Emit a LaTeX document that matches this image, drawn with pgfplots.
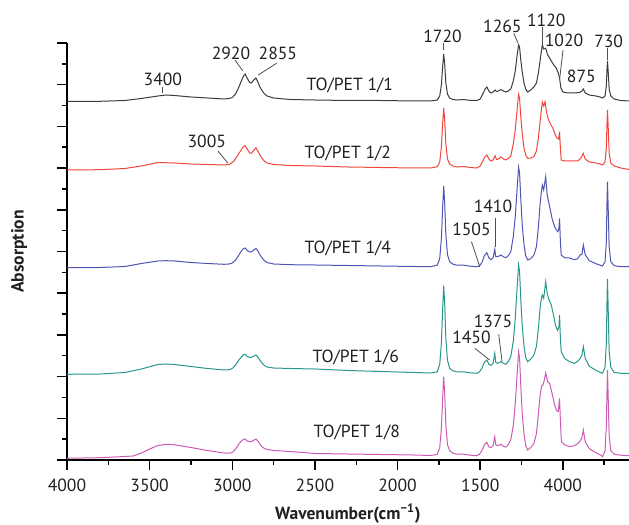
\documentclass[border=0pt]{standalone}
\usepackage{fontspec}
\setmainfont{PT Sans}
\usepackage{pgfplots}
\pgfplotsset{compat=1.18}

\definecolor{lineK}{RGB}{60,60,60}
\definecolor{lineR}{RGB}{240,70,60}
\definecolor{lineB}{RGB}{80,85,180}
\definecolor{lineT}{RGB}{40,150,140}
\definecolor{lineM}{RGB}{205,90,180}
\definecolor{txt}{RGB}{35,31,32}

\begin{document}
\begin{tikzpicture}
\useasboundingbox (0,0) rectangle (314.5pt,262.5pt);
\begin{axis}[
  at={(33.5pt,32.5pt)}, anchor=south west,
  scale only axis, width=281pt, height=208.5pt,
  x dir=reverse, xmin=600, xmax=4000, ymin=0, ymax=417,
  axis x line*=bottom, axis y line*=left,
  axis line style={line width=0.75pt, black},
  xtick={1000,1500,2000,2500,3000,3500,4000},
  xticklabels={4000,1500,2000,2500,3000,3500,4000},
  minor xtick={750,1250,1750,2250,2750,3250,3750},
  ytick={0,41.7,...,417}, minor y tick num=1, yticklabels={},
  tick align=outside, major tick length=5pt, minor tick length=2.5pt,
  tick style={line width=0.75pt, black},
  /pgf/number format/assume math mode=true,
  every tick label/.append style={font=\fontsize{8.8}{10}\selectfont, text=txt},
  xticklabel style={yshift=-1pt},
  xlabel={\bfseries Wavenumber(cm\textsuperscript{−1})},
  ylabel={\bfseries Absorption},
  label style={font=\fontsize{8.8}{10}\selectfont, text=txt},
  xlabel style={at={(axis description cs:0.5,-0.128)}, anchor=center},
  ylabel style={at={(axis description cs:-0.085,0.5)}, anchor=center},
  clip=false,
  every axis plot/.append style={line width=0.5pt},
]
% TO/PET 1/1
\addplot[lineK] table {
4000 358.5
3800 358.7
3650 359.5
3550 361.5
3450 364
3400 365
3350 364.5
3250 363
3150 362
3050 361
3020 361.5
3000 362.5
2980 366
2960 373
2945 379
2932 384
2922 386
2910 382
2895 377.5
2885 377
2870 380
2857 382
2845 378
2830 372
2810 367
2790 364
2750 362
2650 360.5
2500 360
2300 359.5
2100 359.5
1900 359
1800 359
1760 360
1745 364
1735 375
1727 394
1721 406
1715 396
1708 377
1698 366
1685 362
1665 360.5
1640 360
1600 360.5
1580 360
1550 359.5
1520 359.5
1500 361
1485 366
1470 371
1460 373
1448 369
1435 367
1422 368
1410 370
1402 368.5
1390 369
1375 370.5
1360 369
1345 368
1330 369
1315 371
1300 379
1288 389
1278 403
1268 415
1262 413
1254 399
1245 387
1235 377
1225 371
1213 368
1195 370
1175 373
1160 377
1148 387
1138 399
1130 409
1124 415
1116 411
1104 411.7
1092 405
1080 402
1070 399
1055 395
1040 392
1028 387
1020 382
1012 372
1000 368
970 367
930 367
900 367.5
885 369
876 371
865 367
840 365
800 364
775 363
760 362
745 364
737 374
733 391
730 399
726 389
720 371
710 364
690 361
650 359.5
600 359
};
% TO/PET 1/2
\addplot[lineR] table {
4000 290
3800 290.3
3650 291.5
3550 294
3450 297.5
3350 297
3250 296
3150 295.5
3050 295
3020 295.5
3005 297
2990 299
2970 304
2950 309
2935 313
2922 314.3
2910 311
2895 307
2885 306.7
2870 309.5
2857 312.3
2845 309
2830 304
2810 299.5
2790 297
2750 295.5
2650 294.5
2500 294
2300 293
2100 292.5
1900 292
1800 292
1760 293.2
1745 298
1735 313
1727 337
1721 352
1715 340
1708 316
1698 301
1685 296
1665 294
1640 293
1600 293.5
1560 292.5
1520 292
1500 294
1485 299
1470 303.5
1460 305
1448 301
1435 299
1422 300
1410 304.3
1402 300.5
1390 301
1375 303
1360 301
1345 300
1330 301.5
1315 304
1300 316
1288 330
1278 348
1268 365.7
1262 362
1254 342
1245 325
1235 312
1225 305
1213 301.7
1195 302
1175 303.3
1160 309
1148 322
1138 338
1130 350
1124 358
1116 354
1108 358.3
1098 347
1090 341.7
1075 336
1060 331.7
1045 325
1036 322
1026 321
1020 328.3
1015 312
1010 300
990 299
950 299
910 299
890 302
877 306.7
865 301
840 298
800 297
775 296
760 295
745 298
737 312
733 337
730 350
726 334
720 307
710 297
690 294
650 292
600 290.5
};
% TO/PET 1/4
\addplot[lineB] table {
4000 192.3
3800 192.5
3650 193.5
3550 196.5
3450 199
3400 199.3
3350 199
3250 197.5
3150 196.5
3050 195.7
3020 196
3000 197
2980 200
2960 205
2945 209
2932 211.5
2922 212
2910 209.5
2895 208
2885 208
2870 210
2857 211.5
2845 209
2830 204.5
2810 200
2790 197.5
2750 196
2650 195.3
2500 195
2300 194.5
2100 194
1900 193.5
1800 193.3
1760 194.8
1745 201.3
1735 221.3
1727 253.3
1721 274
1715 257.3
1708 225.3
1698 205.3
1685 198.3
1665 195.8
1640 194.8
1600 194.8
1560 193.8
1520 193.3
1505 194
1490 197.3
1475 204.3
1460 207.3
1448 202.3
1435 200.3
1422 202.3
1412 210.7
1406 203.3
1395 203.3
1375 205
1360 203.3
1345 202.3
1330 204.3
1315 208.3
1300 223.3
1288 243.3
1278 268.3
1268 292.7
1262 287.3
1254 259.3
1245 233.3
1235 215.3
1225 204.3
1213 200
1195 201.3
1175 205
1160 213.3
1148 233.3
1138 255.3
1130 268.3
1124 275
1116 270
1104 283.3
1095 265.3
1080 253.3
1065 241.3
1050 233.3
1040 230.3
1030 228.3
1024 231.3
1020 241.7
1015 218.3
1010 205
990 202.3
960 202
930 200.3
910 201.3
895 205.3
885 205.3
876 215
865 205.3
840 199.3
800 196.3
775 194.8
760 194
745 198.3
737 218.3
733 258.3
730 278.3
726 253.3
720 213.3
710 198.3
690 194.3
650 193.3
600 193.3
};
% TO/PET 1/6
\addplot[lineT] table {
4000 85.7
3800 86
3650 87.5
3550 91
3450 95.5
3400 96
3350 95.5
3250 93.5
3150 91.5
3050 90
3020 90.3
3000 91.5
2980 95
2960 100
2945 103
2932 105.2
2922 105.7
2910 103.5
2895 102.7
2885 102.7
2870 104
2857 105
2845 103
2830 99
2810 95
2790 93
2750 92
2650 91.5
2500 91
2300 89.5
2100 88.5
1900 87.5
1800 87
1760 88.2
1745 95.7
1735 116.7
1727 151.7
1721 174.3
1715 156.7
1708 121.7
1698 99.7
1685 91.7
1665 89.2
1640 88.2
1600 88.2
1560 87.2
1520 86.7
1505 88.2
1490 91.7
1475 97.7
1460 100
1448 95.7
1435 94.7
1422 96.7
1412 106.7
1406 97.7
1395 96.7
1375 98.3
1360 96.7
1345 95.7
1330 98.7
1315 103.7
1300 118.7
1288 141.7
1278 168.7
1268 195
1262 188.7
1254 158.7
1245 131.7
1235 113.7
1225 102.7
1213 98.3
1195 100.7
1175 105
1160 113.7
1148 131.7
1138 151.7
1130 161.7
1124 165
1116 161.7
1104 178.3
1095 166.7
1085 160.7
1070 155
1055 143.7
1045 134.7
1032 129.7
1024 132.7
1020 145
1015 121.7
1010 108.3
990 101.7
960 98.3
930 96.7
910 98.7
895 101.7
885 104.7
876 113.3
865 101.7
840 93.7
800 89.7
775 87.7
760 86.7
745 92.7
737 116.7
733 158.7
730 181
726 152.7
720 108.7
710 92.7
690 87.7
650 86.7
600 86.7
};
% TO/PET 1/8
\addplot[lineM] table {
4000 1.7
3800 2.3
3650 3.5
3600 4
3550 7
3500 11
3450 14.5
3400 15.7
3350 15.2
3250 12.5
3150 9.5
3050 7
3020 6.8
3000 7.5
2980 11
2960 16
2945 19
2932 20.7
2922 21
2910 19
2895 18.3
2885 18.3
2870 19.8
2857 21
2845 19
2830 15
2810 12
2790 10.5
2750 9.5
2650 8.5
2500 6.5
2300 6
2100 5.5
1900 5
1800 4.5
1760 5.6
1745 12.3
1735 31.3
1727 62.3
1721 83.3
1715 67.3
1708 35.3
1698 15.3
1685 9.3
1665 6.8
1640 5.8
1600 5.8
1560 4.8
1520 4.3
1505 5.8
1490 9.3
1475 15.3
1460 17.7
1448 13.3
1435 12.3
1422 14.3
1412 23.3
1406 15.3
1395 14.3
1375 15.7
1360 13.8
1345 12.8
1330 15.3
1315 20.3
1300 34.3
1288 56.3
1278 82.3
1268 108.3
1262 102.3
1254 72.3
1245 44.3
1235 26.3
1225 14.3
1213 10
1195 12.3
1175 16.7
1160 26.3
1148 46.3
1138 64.3
1128 74.3
1120 75
1112 80.3
1104 87
1092 78.3
1080 76.7
1065 66.3
1050 55
1038 49.3
1028 48.3
1020 61.7
1015 39.3
1009 18.3
990 15.3
960 13.3
930 14.3
910 16.3
895 19.3
885 22.3
876 30
865 18.3
840 11.3
800 7.3
775 5.3
760 3.3
745 9.3
737 34.3
733 69.3
730 90
726 64.3
720 24.3
710 9.3
690 5.8
650 4.8
600 4.3
};
% sample names
\begin{scope}[every node/.style={font=\fontsize{8.8}{10}\selectfont, text=txt}]
\node at (axis cs:2289,375) {TO/PET 1/1};
\node at (axis cs:2301,307) {TO/PET 1/2};
\node at (axis cs:2301,212) {TO/PET 1/4};
\node at (axis cs:2253,103) {TO/PET 1/6};
\node at (axis cs:2247,27.3) {TO/PET 1/8};
% band positions
\node at (axis cs:3420,381) {3400};
\node at (axis cs:3008,407) {2920};
\node at (axis cs:2724,407) {2855};
\node at (axis cs:3154,319) {3005};
\node at (axis cs:1728,424) {1720};
\node at (axis cs:1366,433.3) {1265};
\node at (axis cs:1100,440) {1120};
\node at (axis cs:993,420) {1020};
\node at (axis cs:888,383.3) {875};
\node at (axis cs:723,419) {730};
\node at (axis cs:1423,253.3) {1410};
\node at (axis cs:1553,230.7) {1505};
\node at (axis cs:1423,138.3) {1375};
\node at (axis cs:1553,122.3) {1450};
\end{scope}
\begin{scope}[txt!80, line width=0.4pt]
\draw (axis cs:3420,373) -- (axis cs:3420,367);
\draw (axis cs:2984,400) -- (axis cs:2936,389);
\draw (axis cs:2732,396.7) -- (axis cs:2843,385);
\draw (axis cs:3087,309) -- (axis cs:3027,297);
\draw (axis cs:1721,416.7) -- (axis cs:1721,410);
\draw (axis cs:1297,426.7) -- (axis cs:1271,416.7);
\draw (axis cs:1126,433.3) -- (axis cs:1126,415);
\draw (axis cs:999,410) -- (axis cs:1019,381.7);
\draw (axis cs:731,411.7) -- (axis cs:731,400);
\draw (axis cs:1406,241.7) -- (axis cs:1406,212.7);
\draw (axis cs:1553,218.3) -- (axis cs:1503,193.3);
\draw (axis cs:1388,125.7) -- (axis cs:1368,98.3);
\draw (axis cs:1533,111.7) -- (axis cs:1443,100);
\end{scope}
\end{axis}
\end{tikzpicture}
\end{document}
